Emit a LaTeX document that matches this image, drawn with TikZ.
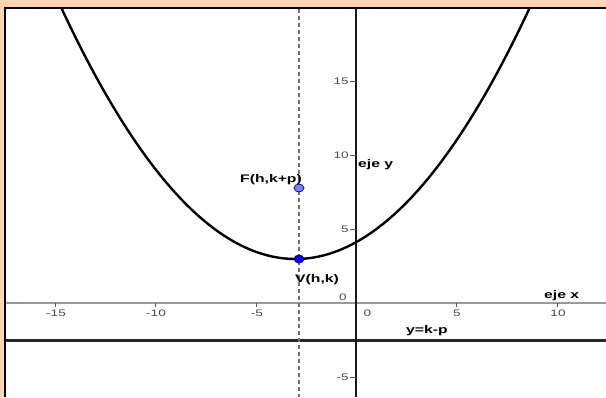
\documentclass[tikz,border=0pt]{standalone}
\usepackage{fontspec}
\setmainfont{Liberation Sans}
\usetikzlibrary{shapes.geometric}
\definecolor{peach}{RGB}{252,213,180}
\definecolor{ptF}{RGB}{125,125,255}
\definecolor{ptV}{RGB}{0,0,255}
\newcommand\wx[1]{\scalebox{1.43}[1]{#1}}
\begin{document}
\begin{tikzpicture}[x=1pt,y=-1pt,
  lbl/.style={inner sep=0pt, anchor=base west, font=\fontsize{11}{11}\selectfont\bfseries},
  tk/.style={inner sep=0pt, font=\fontsize{9.5}{9.5}\selectfont, text=black!70},
  tickline/.style={black!65, line width=1pt},
  pt/.style={ellipse, minimum width=10pt, minimum height=8pt, inner sep=0pt, line width=0.7pt}]
\useasboundingbox (0,0) rectangle (606,397);
\fill[peach] (0,0) rectangle (606,397);
\fill[white] (6,9) rectangle (606,397);
\draw[black, line width=2.2pt] (5,397) -- (5,8) -- (606,8);
\begin{scope}
\clip (6.1,9.1) rectangle (606,397);
% x axis
\coordinate (xl) at (6,303); \coordinate (xr) at (606,303);
\draw[gray!80, line width=1.8pt] (xl) -- (xr);
% directrix
\coordinate (dl) at (6,340.5); \coordinate (dr) at (606,340.5);
\draw[black!85, line width=2.3pt] (dl) -- (dr);
% y axis
\coordinate (yt) at (356,9); \coordinate (yb) at (356,397);
\draw[black!90, line width=1.4pt] (yt) -- (yb);
% axis of symmetry
\coordinate (st) at (299,9); \coordinate (sb) at (299,397);
\draw[gray!90!black, line width=1.3pt, dash pattern=on 4pt off 3pt] (st) -- (sb);
% parabola
\draw[black, line width=2.4pt, line join=round] plot[domain=45:546, samples=120, smooth]
  (\x, {259-45.8*((\x-295.5)/100)^2});
% x ticks
\foreach \px/\lab in {55/-15,155/-10,256/-5,456/5,557/10}{
  \draw[tickline] (\px,303) -- (\px,307);
  \node[tk, anchor=base] (xt\px) at (\px+1,316.5) {\wx{\lab}};
}
\node[tk] (x0) at (367.5,313.5) {\wx{0}};
% y ticks
\foreach \py/\lab in {81/15,155/10,229.5/5,377/-5}{
  \draw[tickline] (350,\py) -- (356,\py);
  \node[tk, anchor=east] (yt\lab) at (349,\py) {\wx{\lab}};
}
\node[tk] (y0) at (343,297) {\wx{0}};
\end{scope}
% labels
\node[lbl] (lF) at (240,182) {\wx{F(h,k+p)}};
\node[lbl] (lV) at (295,282) {\wx{V(h,k)}};
\node[lbl] (ley) at (358,167) {\wx{eje y}};
\node[lbl] (lex) at (544,298) {\wx{eje x}};
\node[lbl] (ldir) at (406,333) {\wx{y=k-p}};
% points
\node[pt, draw=blue!60!black, fill=ptF] (F) at (299,188) {};
\node[pt, draw=blue!50!black, fill=ptV] (V) at (299,259) {};
\end{tikzpicture}
\end{document}
